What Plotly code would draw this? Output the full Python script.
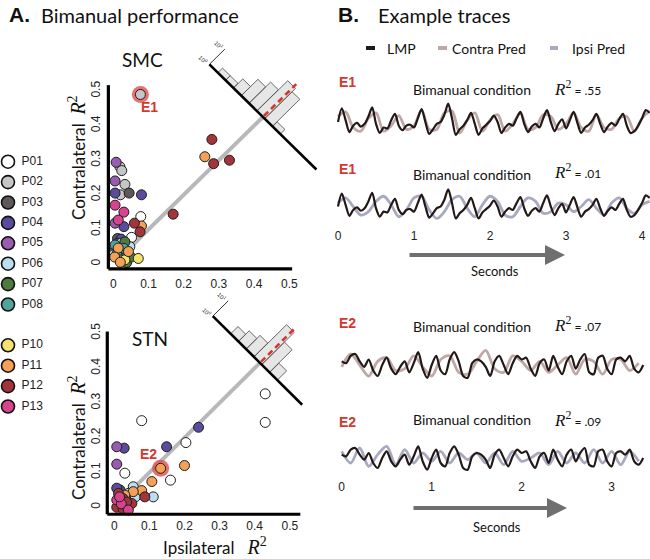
import numpy as np
import plotly.graph_objects as go

W, H = 650, 559

# ---- data -------------------------------------------------------------
participants = ["P01", "P02", "P03", "P04", "P05", "P06", "P07", "P08",
                "P10", "P11", "P12", "P13"]
participant_colors = ["#ffffff", "#c6c6c6", "#5e5858", "#5b4b9d", "#9a5cb3",
                      "#badff2", "#4d7b3d", "#50a49b", "#f7e170", "#f2a156",
                      "#a3343b", "#d8438d"]

r2_ticks = [0, 0.1, 0.2, 0.3, 0.4, 0.5]

# SMC electrodes: ipsilateral vs contralateral R^2 (first one is E1)
smc_pid = ["P02", "P12", "P11", "P12", "P12", "P12", "P05", "P02", "P02", "P05",
           "P02", "P02", "P04", "P03", "P04", "P13", "P13", "P01", "P13", "P05",
           "P04", "P12", "P11", "P12", "P01", "P03", "P04", "P08", "P07", "P06",
           "P11", "P03", "P11", "P08", "P07", "P11", "P08", "P07", "P10", "P10",
           "P06", "P07", "P11", "P08", "P06", "P04"]
smc_ipsi = [0.077, 0.28, 0.26, 0.285, 0.33, 0.17, 0.008, 0.019, 0.024, 0.005,
            0.033, 0.02, 0.005, 0.045, 0.08, 0.005, 0.03, 0.078, 0.014, 0.005,
            0.03, 0.06, 0.08, 0.076, 0.052, 0.012, 0.022, 0.005, 0.033, 0.047,
            0.014, 0.002, 0.043, 0.01, 0.028, 0.004, 0.018, 0.038, 0.071, 0.033,
            0.0, 0.05, 0.02, 0.03, 0.022, 0.012]
smc_contra = [0.49, 0.36, 0.31, 0.29, 0.30, 0.144, 0.294, 0.281, 0.27, 0.24,
              0.23, 0.20, 0.205, 0.205, 0.20, 0.17, 0.15, 0.137, 0.127, 0.118,
              0.108, 0.118, 0.11, 0.093, 0.077, 0.074, 0.072, 0.055, 0.064, 0.05,
              0.046, 0.036, 0.036, 0.028, 0.024, 0.02, 0.012, 0.004, 0.016, 0.012,
              0.026, 0.02, 0.005, 0.045, 0.06, 0.06]

# STN electrodes (first one is E2)
stn_pid = ["P11", "P01", "P01", "P01", "P04", "P01", "P04", "P05", "P04", "P05",
           "P01", "P11", "P01", "P11", "P06", "P11", "P11", "P12", "P06", "P03",
           "P04", "P06", "P13", "P12", "P13", "P12", "P13", "P12", "P12", "P13",
           "P06", "P12", "P11", "P12"]
stn_ipsi = [0.132, 0.43, 0.43, 0.078, 0.24, 0.204, 0.149, 0.007, 0.028, 0.007,
            0.03, 0.20, 0.16, 0.107, 0.054, 0.078, 0.054, 0.087, 0.111, 0.016,
            0.007, 0.04, 0.007, 0.007, 0.02, 0.025, 0.015, 0.05, 0.025, 0.04,
            0.06, 0.035, 0.03, 0.012]
stn_contra = [0.112, 0.326, 0.244, 0.249, 0.23, 0.186, 0.174, 0.174, 0.17, 0.124,
              0.098, 0.12, 0.078, 0.074, 0.059, 0.048, 0.045, 0.03, 0.03, 0.05,
              0.055, 0.04, 0.021, 0.0, 0.01, 0.025, 0.03, 0.011, -0.005, -0.008,
              0.03, 0.015, 0.035, 0.04]

# histograms of (contra - ipsi) along the diagonal, counts on log scale
smc_hist_diff = [0.234, 0.190, 0.145, 0.101, 0.057, 0.012, -0.032, -0.077]
smc_hist_count = [2, 2, 4, 12, 25, 100, 60, 2]
stn_hist_diff = [0.145, 0.101, 0.057, 0.012, -0.032, -0.077]
stn_hist_count = [3, 5, 8, 130, 30, 4]
hist_bin_width = 0.044

# example traces (normalised amplitude)
e1_lmp = [0.0, 0.75, 0.1, -0.55, -0.2, -0.05, -0.25, -0.1, 0.3, 0.8,
          -0.1, -0.6, -0.3, -0.35, 0.1, 0.45, -0.2, -0.45, -0.2, -0.15,
          -0.3, 0.2, 0.7, 0.0, -0.65, -0.4, -0.1, 0.0, 0.4, 1.0,
          0.2, -0.7, -0.4, -0.2, 0.1, 0.5, -0.1, -0.7, -0.35, -0.15,
          0.05, 0.35, 0.0, -0.6, -0.3, -0.1, -0.2, 0.2, 0.55, -0.1,
          -0.55, -0.25, -0.1, -0.3, 0.2, 0.65, 0.0, -0.5, -0.1, 0.15,
          -0.35, 0.1, 0.55, -0.05, -0.6, -0.3, -0.15, 0.1, 0.45, -0.1,
          -0.55, -0.25, -0.05, -0.2, 0.15, 0.45, -0.2, -0.6, -0.5, -0.2,
          0.2, 0.65, 0.5]
e1_contra_pred = [0.3, 0.55, -0.3, -0.5, 0.2, 0.5, -0.5, -0.2, 0.35, -0.4,
                  -0.2, 0.65, -0.4, -0.4, 0.5, 0.6, -0.6, 0.1, 0.5, -0.5,
                  0.1, 0.4, -0.5, -0.1, 0.5, -0.4, -0.3, 0.4, 0.3, -0.4,
                  -0.1, 0.5, -0.3, -0.5, 0.4, -0.3, -0.4, 0.2, 0.3, -0.5,
                  0.2, 0.6]
e1_ipsi_pred = [0.2, 0.5, 0.0, -0.5, -0.3, 0.3, 0.6, 0.1, -0.6, -0.2,
                0.5, 0.6, -0.2, -0.7, -0.3, 0.4, 0.6, -0.1, -0.6, 0.1,
                0.6, 0.3, -0.5, -0.6, 0.0, 0.5, 0.3, -0.4, -0.3, 0.2,
                0.1, -0.3, 0.0, 0.4, -0.1, -0.5, 0.2, 0.5, -0.1, -0.4,
                0.1, 0.3]
e2_lmp = [0.2, 0.1, 0.5, 0.6, 0.2, -0.1, 0.3, -0.3, -0.6, 0.0,
          0.4, -0.2, -0.5, -0.1, 0.2, -0.4, 0.1, 0.7, -0.2, -0.7,
          0.0, 0.5, -0.3, -0.5, 0.3, 0.7, 0.2, -0.6, -0.7, 0.1,
          0.3, 0.2, -0.1, -0.6, 0.2, 0.5, 0.0, -0.5, 0.1, 0.5,
          0.3, 0.4, -0.2, -0.6, 0.1, 0.3, -0.3, 0.5, -0.1, -0.5,
          0.2, 0.5, -0.2, 0.3, 0.6, -0.4, -0.5, 0.4, 0.5, -0.2,
          -0.5, 0.3, 0.4, 0.2, 0.5, -0.2, -0.4, 0.0]
e2_contra_pred = [-0.1, 0.6, 0.0, -0.6, 0.2, 0.4, -0.3, -0.2, 0.5, -0.1,
                  -0.6, 0.3, 0.5, -0.4, -0.5, 0.2, 0.8, -0.2, -0.4, 0.5,
                  0.2, -0.3, 0.2, -0.4, 0.0, 0.4, -0.5, 0.3, 0.2, -0.5,
                  0.3, 0.3, -0.3, 0.1]
e2_ipsi_pred = [0.4, -0.3, 0.6, -0.5, 0.2, 0.7, -0.4, 0.5, -0.3, 0.3,
                -0.2, 0.4, -0.3, 0.3, -0.1, 0.3, -0.3, 0.3, -0.4, 0.4,
                -0.2, 0.0, 0.3, -0.4, 0.4, -0.3, 0.3, -0.3, 0.5, -0.3,
                0.4, -0.4, 0.4, -0.2]
lmp_dt = 0.05
pred_dt = 0.1
e1_seconds = [0, 1, 2, 3, 4]
e2_seconds = [0, 1, 2, 3]
example_r2 = [".55", ".01", ".07", ".09"]

# ---- style ------------------------------------------------------------
SANS = "Lato"
ARIAL = "Liberation Sans"
SERIF = "Liberation Serif"
RED = "#d3382e"
LMP_COL = "#231818"
CONTRA_COL = "#bea8a6"
IPSI_COL = "#a8a8bf"
DECADE = 0.062        # length of one log10 decade of the histogram count axis
R = np.sqrt(0.5)


def pxx(p):
    return p / W


def pxy(p):
    return 1 - p / H


def dom_x(a, b):
    return [pxx(a), pxx(b)]


def dom_y(top, bottom):
    return [pxy(bottom), pxy(top)]


def rng_x(a, b, zero, ppu):
    return [(a - zero) / ppu, (b - zero) / ppu]


def rng_y(top, bottom, zero, ppu):
    return [(zero - bottom) / ppu, (zero - top) / ppu]


fig = go.Figure()


def diag_point(c, a, b):
    # a: along the histogram base (towards lower right), b: along the count axis
    return c + (a + b) * R, c + (b - a) * R


def add_panel(xa, ya, pid, ipsi, contra, hist_diff, hist_count, cross, base_ext,
              diag_start, axis_x_end, axis_y_end, axis_pos, hi_idx):
    # histogram bars
    hx, hy = [], []
    hw = hist_bin_width * R / 2
    for d, n in zip(hist_diff, hist_count):
        if n <= 1:
            continue
        s = -d * R
        h = np.log10(n) * DECADE
        for a, b in [(s - hw, 0), (s + hw, 0), (s + hw, h), (s - hw, h), (s - hw, 0)]:
            px_, py_ = diag_point(cross, a, b)
            hx.append(px_)
            hy.append(py_)
        hx.append(None)
        hy.append(None)
    fig.add_trace(go.Scatter(x=hx, y=hy, mode="lines", fill="toself",
                             fillcolor="#e6e6e6", line=dict(color="#5a5a5a", width=0.9),
                             xaxis=xa, yaxis=ya, showlegend=False, hoverinfo="skip"))
    # identity line up to the histogram base
    fig.add_trace(go.Scatter(x=[diag_start, cross], y=[diag_start, cross], mode="lines",
                             line=dict(color="#b8b8b8", width=4),
                             xaxis=xa, yaxis=ya, showlegend=False, hoverinfo="skip"))
    # histogram base line
    p0 = diag_point(cross, base_ext[0], 0)
    p1 = diag_point(cross, base_ext[1], 0)
    fig.add_trace(go.Scatter(x=[p0[0], p1[0]], y=[p0[1], p1[1]], mode="lines",
                             line=dict(color="black", width=2.6),
                             xaxis=xa, yaxis=ya, showlegend=False, hoverinfo="skip"))
    # count axis (10^0 .. 10^1)
    q1 = diag_point(cross, base_ext[0], DECADE)
    fig.add_trace(go.Scatter(x=[p0[0], q1[0]], y=[p0[1], q1[1]], mode="lines",
                             line=dict(color="black", width=0.8),
                             xaxis=xa, yaxis=ya, showlegend=False, hoverinfo="skip"))
    for (qx, qy), lab in [(p0, "10<sup>0</sup>"), (q1, "10<sup>1</sup>")]:
        fig.add_annotation(x=qx, y=qy, xref=xa, yref=ya, text=lab, showarrow=False,
                           textangle=45, xshift=-6, yshift=4,
                           font=dict(family=ARIAL, size=6, color="#222"))
    # red dashed mean line
    top = max(np.log10(n) for n in hist_count) * DECADE
    r0 = diag_point(cross, 0, 0.004)
    r1 = diag_point(cross, 0, top + 0.01)
    fig.add_trace(go.Scatter(x=[r0[0], r1[0]], y=[r0[1], r1[1]], mode="lines",
                             line=dict(color=RED, width=2.6, dash="6px,4px"),
                             xaxis=xa, yaxis=ya, showlegend=False, hoverinfo="skip"))
    # axis lines
    fig.add_shape(type="line", xref=xa, yref=ya, x0=axis_pos, x1=axis_x_end,
                  y0=axis_pos, y1=axis_pos, line=dict(color="black", width=3.2))
    fig.add_shape(type="line", xref=xa, yref=ya, x0=axis_pos, x1=axis_pos,
                  y0=axis_pos, y1=axis_y_end, line=dict(color="black", width=3.2))
    # highlighted electrode halo
    fig.add_trace(go.Scatter(x=[ipsi[hi_idx]], y=[contra[hi_idx]], mode="markers",
                             marker=dict(size=17, color="rgba(222,78,78,0.8)"),
                             xaxis=xa, yaxis=ya, showlegend=False, cliponaxis=False))
    # electrodes, coloured by participant
    for p, col in zip(participants, participant_colors):
        idx = [i for i, q in enumerate(pid) if q == p]
        if not idx:
            continue
        fig.add_trace(go.Scatter(
            x=[ipsi[i] for i in idx], y=[contra[i] for i in idx], mode="markers",
            marker=dict(size=10, color=col, line=dict(color="#1e1e1e", width=1)),
            name=p, xaxis=xa, yaxis=ya, showlegend=False, cliponaxis=False))


add_panel("x", "y", smc_pid, smc_ipsi, smc_contra, smc_hist_diff, smc_hist_count,
          0.425, (-0.215, 0.215), 0.055, 0.508, 0.517, -0.014, 0)
add_panel("x2", "y2", stn_pid, stn_ipsi, stn_contra, stn_hist_diff, stn_hist_count,
          0.415, (-0.19, 0.17), 0.03, 0.53, 0.505, -0.02, 0)

# participant legend
rows = [int(p[1:]) - 1 for p in participants]
fig.add_trace(go.Scatter(x=[0] * len(rows), y=rows, mode="markers",
                         marker=dict(size=13, color=participant_colors,
                                     line=dict(color="#111", width=1.6)),
                         xaxis="x3", yaxis="y3", showlegend=False, cliponaxis=False))
fig.add_trace(go.Scatter(x=[0.85] * len(rows), y=rows, mode="text", text=participants,
                         textposition="middle right",
                         textfont=dict(family=ARIAL, size=12, color="#222"),
                         xaxis="x3", yaxis="y3", showlegend=False, cliponaxis=False))

# example traces
examples = [
    ("x4", "y4", e1_lmp, e1_contra_pred, CONTRA_COL),
    ("x5", "y5", e1_lmp, e1_ipsi_pred, IPSI_COL),
    ("x6", "y6", e2_lmp, e2_contra_pred, CONTRA_COL),
    ("x7", "y7", e2_lmp, e2_ipsi_pred, IPSI_COL),
]
for xa, ya, lmp, pred, col in examples:
    fig.add_trace(go.Scatter(x=np.arange(len(pred)) * pred_dt, y=pred, mode="lines",
                             line=dict(color=col, width=2.8, shape="spline", smoothing=0.9),
                             xaxis=xa, yaxis=ya, showlegend=False))
    fig.add_trace(go.Scatter(x=np.arange(len(lmp)) * lmp_dt, y=lmp, mode="lines",
                             line=dict(color=LMP_COL, width=2.2, shape="spline", smoothing=0.8),
                             xaxis=xa, yaxis=ya, showlegend=False))

# ---- axes -------------------------------------------------------------
scatter_tick = dict(family=ARIAL, size=12, color="#222")
hidden = dict(visible=False, showgrid=False, zeroline=False)


def sc_x(dom, rng, anchor):
    return dict(domain=dom, range=rng, anchor=anchor, showgrid=False, zeroline=False,
                showline=False, tickvals=r2_ticks, ticks="", tickfont=scatter_tick)


def sc_y(dom, rng, anchor):
    return dict(domain=dom, range=rng, anchor=anchor, showgrid=False, zeroline=False,
                showline=False, tickvals=r2_ticks, ticks="", tickangle=-90,
                tickfont=scatter_tick)


def tr_x(dom, rng, anchor, ticks):
    if ticks is None:
        return dict(domain=dom, range=rng, anchor=anchor, **hidden)
    return dict(domain=dom, range=rng, anchor=anchor, showgrid=False, zeroline=False,
                showline=False, tickvals=ticks, ticks="",
                tickfont=dict(family=ARIAL, size=12, color="#222"))


fig.update_layout(
    width=W, height=H, margin=dict(l=0, r=0, t=0, b=0),
    paper_bgcolor="white", plot_bgcolor="rgba(0,0,0,0)", showlegend=False,
    xaxis=sc_x(dom_x(103, 330), rng_x(103, 330, 113.3, 352), "y"),
    yaxis=sc_y(dom_y(25, 275), rng_y(25, 275, 264, 346), "x"),
    xaxis2=sc_x(dom_x(103, 330), rng_x(103, 330, 114.3, 351), "y2"),
    yaxis2=sc_y(dom_y(290, 517), rng_y(290, 517, 507.3, 348), "x2"),
    xaxis3=dict(domain=dom_x(0, 78), range=[-0.5, 4.375], anchor="y3", **hidden),
    yaxis3=dict(domain=dom_y(151.5, 416.7), range=[12.5, -0.5], anchor="x3", **hidden),
    xaxis4=tr_x(dom_x(335, 650), rng_x(335, 650, 338, 76), "y4", None),
    yaxis4=dict(domain=dom_y(100, 144), range=[-1.2, 1.2], anchor="x4", **hidden),
    xaxis5=tr_x(dom_x(335, 650), rng_x(335, 650, 338, 76), "y5", e1_seconds),
    yaxis5=dict(domain=dom_y(186, 227), range=[-1.2, 1.2], anchor="x5", **hidden),
    xaxis6=tr_x(dom_x(335, 650), rng_x(335, 650, 341.7, 90), "y6", None),
    yaxis6=dict(domain=dom_y(343, 387), range=[-1.2, 1.2], anchor="x6", **hidden),
    xaxis7=tr_x(dom_x(335, 650), rng_x(335, 650, 341.7, 90), "y7", e2_seconds),
    yaxis7=dict(domain=dom_y(438, 478), range=[-1.2, 1.2], anchor="x7", **hidden),
)

# ---- text -------------------------------------------------------------
r2_sym = f"<span style='font-family:{SERIF};font-size:17px'><i>R</i><sup>2</sup></span>"


def note(x, y, text, size=14, family=SANS, color="#111", xanchor="center", angle=0):
    fig.add_annotation(x=pxx(x), y=pxy(y), xref="paper", yref="paper", text=text,
                       showarrow=False, xanchor=xanchor, yanchor="middle",
                       textangle=angle, font=dict(family=family, size=size, color=color))


note(7, 15, "<b>A.</b>", 21, ARIAL, "#111", "left")
note(39, 15, "Bimanual performance", 20, SANS, "#111", "left")
note(336, 15, "<b>B.</b>", 21, ARIAL, "#111", "left")
note(376, 15, "Example traces", 20, SANS, "#111", "left")

note(142, 59, "SMC", 19)
note(150, 338, "STN", 19)
y_title = "Contralateral&nbsp;&nbsp;" + r2_sym.replace("17px", "20px")
note(77, 158, y_title, 17, SANS, "#111", "center", -90)
note(77, 438, y_title, 17, SANS, "#111", "center", -90)
note(215, 546, "Ipsilateral&nbsp;&nbsp;&nbsp;" + r2_sym.replace("17px", "20px"), 17)

fig.add_annotation(x=smc_ipsi[0], y=smc_contra[0], xref="x", yref="y", text="<b>E1</b>",
                   showarrow=False, xshift=9, yshift=-13,
                   font=dict(family=ARIAL, size=14, color=RED))
fig.add_annotation(x=stn_ipsi[0], y=stn_contra[0], xref="x2", yref="y2", text="<b>E2</b>",
                   showarrow=False, xshift=-12, yshift=14,
                   font=dict(family=ARIAL, size=14, color=RED))

# panel B legend
for x0, x1, col, label, lx in [(366, 375, LMP_COL, "LMP", 385),
                               (438, 447, CONTRA_COL, "Contra Pred", 450),
                               (550, 558, IPSI_COL, "Ipsi Pred", 570)]:
    fig.add_shape(type="line", xref="paper", yref="paper", x0=pxx(x0), x1=pxx(x1),
                  y0=pxy(48), y1=pxy(48), line=dict(color=col, width=4))
    note(lx, 48, label, 14, SANS, "#111", "left")

# per-example labels
for (ey, cy, ry), tag, r2 in zip([(82, 90, 88), (169, 175, 171), (323, 327, 324), (422, 419, 419)],
                                 ["E1", "E1", "E2", "E2"], example_r2):
    note(337, ey, f"<b>{tag}</b>", 14, ARIAL, RED, "left")
    note(472, cy, "Bimanual condition", 14)
    note(552, ry, r2_sym + " = " + r2, 12, SANS, "#111", "left")

# time arrows
for y_arrow, y_text, x0, x1 in [(255, 271, 408, 565), (508, 527, 412, 567)]:
    fig.add_annotation(x=pxx(x1), y=pxy(y_arrow), xref="paper", yref="paper", text="",
                       showarrow=True, ax=-(x1 - x0), ay=0, arrowhead=2, arrowsize=1.0,
                       arrowwidth=4, arrowcolor="#6f6f6f")
    note((x0 + x1) / 2 + 8, y_text, "Seconds", 13)

fig.write_html("out.html", config={"displayModeBar": False},
               post_script="document.body.style.margin='0px';")
